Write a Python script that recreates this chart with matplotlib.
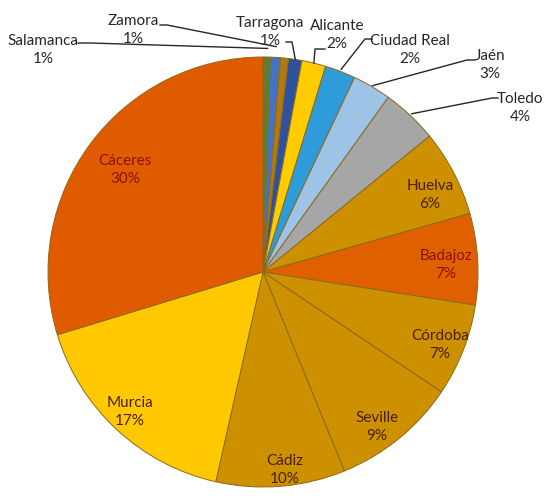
import matplotlib
matplotlib.use("Agg")
from matplotlib import pyplot as plt
import numpy as np

# slices clockwise from 12 o'clock, "" = slice with no label shown
regions = ["", "Salamanca", "Zamora", "", "Tarragona", "Alicante", "Ciudad Real", "Jaén",
           "Toledo", "Huelva", "Badajoz", "Córdoba", "Seville", "Cádiz", "Murcia", "Cáceres"]
shares = [0.1, 0.45, 0.75, 0.6, 1.0, 1.8, 2.3, 2.9,
          4.2, 6.5, 6.85, 6.95, 9.4, 9.7, 16.75, 29.7]
pct_labels = ["", "1%", "1%", "", "1%", "2%", "2%", "3%",
              "4%", "6%", "7%", "7%", "9%", "10%", "17%", "30%"]
colors = ["#7F6000", "#548235", "#4472C4", "#B07A10", "#2F52A0", "#FFCC00", "#2E9BDA", "#9DC3E6",
          "#A6A6A6", "#CC9000", "#E06000", "#CC9000", "#CC9000", "#CC9000", "#FFC800", "#E05A00"]

# outside labels: text centre, tail start, elbow (pixels of a 550x500 image), leader radius
outside = {
    "Salamanca": ((43, 50), (78, 43), (90, 43), 1.04),
    "Zamora": ((133, 30), (160, 25), (167, 25), 1.05),
    "Tarragona": ((270, 32), (286, 42), (292, 42), 1.0),
    "Alicante": ((337, 35), (325, 49), (315, 49), 1.0),
    "Ciudad Real": ((410, 50), (372, 39), (365, 39), 1.01),
    "Jaén": ((490, 65), (475, 60), (467, 60), 1.005),
    "Toledo": ((520, 108), (498, 98), (492, 98), 1.01),
}
inside = {
    "Huelva": (430, 195), "Badajoz": (446, 265), "Córdoba": (440, 345),
    "Seville": (377, 427), "Cádiz": (285, 470), "Murcia": (130, 412), "Cáceres": (125, 170),
}
dark_red = "#8B1200"
dark_brown = "#4A2000"

CX, CY, R = 263, 272, 215


def px(x, y):
    return (x - CX) / R, (CY - y) / R


plt.rcParams['font.family'] = ['Lato', 'DejaVu Sans']
fig = plt.figure(figsize=(5.5, 5), dpi=100)
ax = fig.add_axes([0, 0, 1, 1])

wedges, _ = ax.pie(shares, colors=colors, startangle=90, counterclock=False, radius=1,
                   wedgeprops=dict(edgecolor="#8C6A1A", linewidth=0.7))

ax.set_aspect("auto")
ax.set_xlim(px(0, 0)[0], px(550, 0)[0])
ax.set_ylim(px(0, 500)[1], px(0, 0)[1])
ax.axis("off")

for w, name, pct in zip(wedges, regions, pct_labels):
    if not name:
        continue
    mid = np.deg2rad((w.theta1 + w.theta2) / 2)
    if name in outside:
        (tx, ty), tail, elbow, r = outside[name]
        ax.text(*px(tx, ty), f"{name}\n{pct}", ha="center", va="center",
                fontsize=11, color="#262626", linespacing=1.3)
        end = (r * np.cos(mid), r * np.sin(mid))
        p0, p1 = px(*tail), px(*elbow)
        ax.plot([p0[0], p1[0], end[0]], [p0[1], p1[1], end[1]], color="#262626", lw=1)
    else:
        col = dark_red if name in ("Cáceres", "Badajoz") else dark_brown
        ax.text(*px(*inside[name]), f"{name}\n{pct}", ha="center", va="center",
                fontsize=11, color=col, linespacing=1.3)

fig.savefig("out.png", dpi=100)
